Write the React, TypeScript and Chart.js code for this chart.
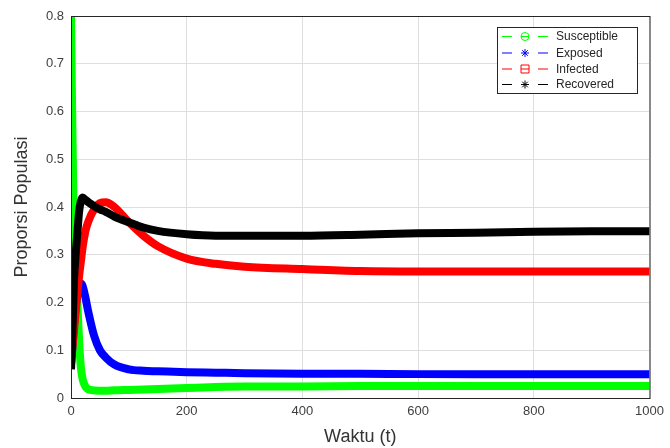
import React, { useEffect, useRef } from "react";
import { Chart, registerables } from "chart.js";

Chart.register(...registerables);

const T = [0, 2, 5, 8, 11, 14, 17, 20, 25, 30, 40, 50, 60, 75, 100, 125, 150, 200, 250, 300, 400, 500, 600, 700, 800, 900, 1000];
const susceptible = [0.8, 0.6, 0.35, 0.27, 0.2, 0.12, 0.065, 0.04, 0.024, 0.018, 0.016, 0.015, 0.015, 0.016, 0.017, 0.018, 0.019, 0.021, 0.023, 0.024, 0.024, 0.025, 0.025, 0.025, 0.025, 0.025, 0.025];
const exposed = [0.07, 0.1, 0.15, 0.19, 0.22, 0.235, 0.24, 0.235, 0.21, 0.18, 0.13, 0.1, 0.085, 0.07, 0.06, 0.057, 0.056, 0.054, 0.053, 0.052, 0.051, 0.051, 0.05, 0.05, 0.05, 0.05, 0.05];
const infected = [0.07, 0.1, 0.14, 0.18, 0.22, 0.255, 0.285, 0.315, 0.35, 0.37, 0.395, 0.408, 0.41, 0.4, 0.368, 0.34, 0.318, 0.292, 0.281, 0.275, 0.27, 0.266, 0.265, 0.265, 0.265, 0.265, 0.265];
const recovered = [0.06, 0.12, 0.24, 0.3, 0.345, 0.39, 0.412, 0.42, 0.415, 0.41, 0.402, 0.395, 0.39, 0.38, 0.368, 0.357, 0.35, 0.343, 0.34, 0.34, 0.34, 0.342, 0.345, 0.346, 0.348, 0.349, 0.349];
const seriesNames = ["Susceptible", "Exposed", "Infected", "Recovered"];
const seriesColors = ["#00ff00", "#0000ff", "#ff0000", "#000000"];
const markers = ["circle", "star", "square", "star"];
const xTicks = [0, 200, 400, 600, 800, 1000];
const yTicks = [0, 0.1, 0.2, 0.3, 0.4, 0.5, 0.6, 0.7, 0.8];

function drawMarker(ctx: CanvasRenderingContext2D, kind: string, x: number, y: number, color: string) {
  ctx.save();
  ctx.strokeStyle = color;
  ctx.lineWidth = 1;
  const r = 4;
  ctx.beginPath();
  if (kind === "circle") {
    ctx.arc(x, y, r, 0, Math.PI * 2);
    ctx.moveTo(x - r, y);
    ctx.lineTo(x + r, y);
  } else if (kind === "square") {
    ctx.rect(x - r, y - r, 2 * r, 2 * r);
    ctx.moveTo(x - r, y);
    ctx.lineTo(x + r, y);
  } else {
    ctx.moveTo(x - r, y);
    ctx.lineTo(x + r, y);
    ctx.moveTo(x, y - r);
    ctx.lineTo(x, y + r);
    ctx.moveTo(x - r * 0.7, y - r * 0.7);
    ctx.lineTo(x + r * 0.7, y + r * 0.7);
    ctx.moveTo(x - r * 0.7, y + r * 0.7);
    ctx.lineTo(x + r * 0.7, y - r * 0.7);
  }
  ctx.stroke();
  ctx.restore();
}

const boxAndLegend = {
  id: "boxAndLegend",
  afterDraw(chart: any) {
    const ctx = chart.ctx as CanvasRenderingContext2D;
    const a = chart.chartArea;
    ctx.save();
    ctx.strokeStyle = "#262626";
    ctx.lineWidth = 1;
    ctx.strokeRect(a.left + 0.5, a.top + 0.5, a.right - a.left, a.bottom - a.top);
    const lx = 497, ly = 27, lw = 140, lh = 66;
    ctx.fillStyle = "#ffffff";
    ctx.fillRect(lx, ly, lw, lh);
    ctx.strokeRect(lx + 0.5, ly + 0.5, lw, lh);
    ctx.font = "12px 'Liberation Sans', Arial, sans-serif";
    ctx.textBaseline = "middle";
    ctx.textAlign = "left";
    const rows = [36, 52.5, 68.5, 84];
    seriesNames.forEach((name, i) => {
      const y = rows[i];
      ctx.strokeStyle = seriesColors[i];
      ctx.lineWidth = 1;
      ctx.beginPath();
      ctx.moveTo(502, y + 0.5);
      ctx.lineTo(512, y + 0.5);
      ctx.moveTo(538, y + 0.5);
      ctx.lineTo(548, y + 0.5);
      ctx.stroke();
      drawMarker(ctx, markers[i], 525, y + 0.5, seriesColors[i]);
      ctx.fillStyle = "#262626";
      ctx.fillText(name, 556, y + 1);
    });
    ctx.restore();
  },
};

export default function App() {
  const ref = useRef<HTMLCanvasElement | null>(null);
  useEffect(() => {
    if (!ref.current) return;
    const all = [susceptible, exposed, infected, recovered];
    const orders = [3, 2, 1, 0];
    const chart = new Chart(ref.current, {
      type: "line",
      data: {
        datasets: all.map((vals, i) => ({
          label: seriesNames[i],
          data: T.map((t, j) => ({ x: t, y: vals[j] })),
          borderColor: seriesColors[i],
          backgroundColor: seriesColors[i],
          borderWidth: 8,
          pointRadius: 0,
          cubicInterpolationMode: "monotone" as const,
          order: orders[i],
        })),
      },
      options: {
        animation: false,
        responsive: false,
        maintainAspectRatio: false,
        layout: { padding: { left: 0, right: 19, top: 16, bottom: 0 } },
        plugins: { legend: { display: false }, tooltip: { enabled: false } },
        scales: {
          x: {
            type: "linear",
            min: 0,
            max: 1000,
            afterBuildTicks: (s: any) => { s.ticks = xTicks.map((v) => ({ value: v })); },
            afterFit: (s: any) => { s.height = 50; },
            grid: { color: "#dedede", drawTicks: false },
            border: { color: "#262626" },
            ticks: { color: "#404040", font: { size: 13, family: "'Liberation Sans', Arial, sans-serif" }, padding: 6, maxRotation: 0, callback: (v: any) => String(Number(v)) },
            title: { display: true, text: "Waktu (t)", color: "#333333", font: { size: 18, family: "'Liberation Sans', Arial, sans-serif" }, padding: { top: 2, bottom: 0 } },
          },
          y: {
            type: "linear",
            min: 0,
            max: 0.8,
            afterBuildTicks: (s: any) => { s.ticks = yTicks.map((v) => ({ value: v })); },
            afterFit: (s: any) => { s.width = 71; },
            grid: { color: "#dedede", drawTicks: false },
            border: { color: "#262626" },
            ticks: { color: "#404040", font: { size: 13, family: "'Liberation Sans', Arial, sans-serif" }, padding: 7, callback: (v: any) => String(Number(v)) },
            title: { display: true, text: "Proporsi Populasi", color: "#333333", font: { size: 18, family: "'Liberation Sans', Arial, sans-serif" }, padding: { top: 11, bottom: 0 } },
          },
        },
      },
      plugins: [boxAndLegend],
    });
    return () => chart.destroy();
  }, []);
  return (
    <div style={{ position: "fixed", left: 0, top: 0, width: 670, height: 448, background: "#fff" }}>
      <canvas ref={ref} width={670} height={448} style={{ width: 670, height: 448 }} />
    </div>
  );
}
